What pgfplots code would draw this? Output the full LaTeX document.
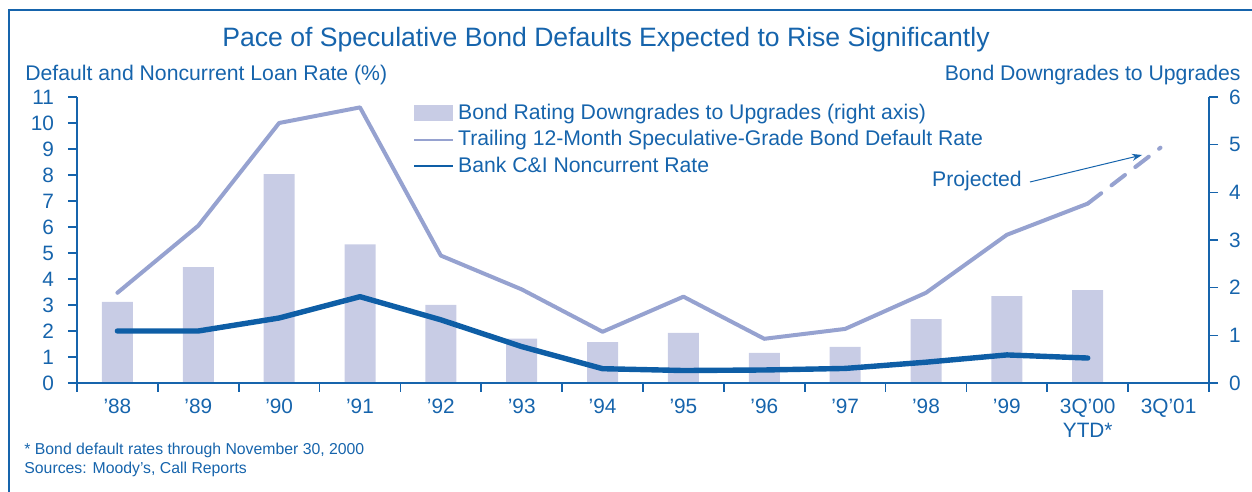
\documentclass[border=0pt]{standalone}
\usepackage{fontspec}
\setmainfont{Liberation Sans}
\usepackage{pgfplots}
\pgfplotsset{compat=1.18}
\usetikzlibrary{arrows.meta}

\definecolor{fdicblue}{RGB}{22,100,172}
\definecolor{bankblue}{RGB}{14,94,166}
\definecolor{ratelav}{RGB}{150,162,208}
\definecolor{barlav}{RGB}{200,204,229}

\pgfplotsset{
  common/.style={
    scale only axis, width=566pt, height=143pt,
    at={(38.5pt,54.5pt)}, anchor=south west,
    xmin=0, xmax=14,
    axis line style={fdicblue, line width=0.8pt, -},
    tick style={fdicblue, line width=0.8pt},
    tick align=outside, major tick length=4.5pt,
    ticklabel style={font=\fontsize{10.4}{12}\selectfont, text=fdicblue},
    /pgf/number format/assume math mode=true,
  }
}

\begin{document}
\begin{tikzpicture}[x=0.5pt,y=0.5pt]
\useasboundingbox (0,0) rectangle (1252,492);
\draw[fdicblue, line width=1pt] (9,0) -- (9,482) -- (1252,482);

% bars, right axis
\begin{axis}[common,
  ymin=0, ymax=6, ytick={0,...,6},
  axis y line*=right, axis x line=none,
  yticklabel style={xshift=2pt},
  legend style={at={(0.297,0.99)}, anchor=north west, draw=none, fill=none,
    font=\fontsize{10.6}{12}\selectfont, text=fdicblue, row sep=0pt,
    inner sep=0pt, nodes={inner sep=2pt}},
  legend cell align=left,
]
\addplot[ybar, fill=barlav, draw=none, bar width=15.5pt,
  legend image code/.code={\fill[barlav] (0pt,-4pt) rectangle (19.5pt,4pt);}]
  coordinates {(0.5,1.70) (1.5,2.43) (2.5,4.38) (3.5,2.91) (4.5,1.64) (5.5,0.93)
    (6.5,0.86) (7.5,1.05) (8.5,0.63) (9.5,0.76) (10.5,1.34) (11.5,1.82) (12.5,1.95)};
\addlegendentry{Bond Rating Downgrades to Upgrades (right axis)}
\addlegendimage{ratelav, line width=0.8pt, legend image code/.code={\draw (0pt,0pt) -- (19.5pt,0pt);}}
\addlegendentry{Trailing 12-Month Speculative-Grade Bond Default Rate}
\addlegendimage{bankblue, line width=0.8pt, legend image code/.code={\draw (0pt,0pt) -- (19.5pt,0pt);}}
\addlegendentry{Bank C\&I Noncurrent Rate}
\end{axis}

% lines, left axis
\begin{axis}[common,
  ymin=0, ymax=11, ytick={0,...,11},
  axis y line*=left, axis x line*=bottom,
  yticklabel style={xshift=-3.5pt},
  xtick={0,...,14}, x tick label as interval,
  xticklabels={’88,’89,’90,’91,’92,’93,’94,’95,’96,’97,’98,’99,{3Q’00\\YTD*},3Q’01},
  xticklabel style={align=center},
  clip=false,
]
\addplot[ratelav, line width=2pt, line join=round, line cap=round]
  coordinates {(0.5,3.47) (1.5,6.05) (2.5,10.0) (3.5,10.6) (4.5,4.9) (5.5,3.6)
    (6.5,1.97) (7.5,3.32) (8.5,1.7) (9.5,2.08) (10.5,3.47) (11.5,5.7) (12.5,6.9)};
\addplot[ratelav, line width=2pt, line cap=round, dash pattern=on 8.5pt off 6.5pt]
  coordinates {(12.5,6.9) (13.4,9.05)};
\addplot[bankblue, line width=2.7pt, line join=round, line cap=round]
  coordinates {(0.5,2.0) (1.5,2.0) (2.5,2.5) (3.5,3.32) (4.5,2.43) (5.5,1.4)
    (6.5,0.55) (7.5,0.48) (8.5,0.5) (9.5,0.56) (10.5,0.8) (11.5,1.08) (12.5,0.96)};
\end{axis}

\node[font=\fontsize{13.3}{16}\selectfont, text=fdicblue] at (606,452)
  {Pace of Speculative Bond Defaults Expected to Rise Significantly};
\node[font=\fontsize{10.6}{12}\selectfont, text=fdicblue, anchor=west, inner sep=0pt] at (25,417)
  {Default and Noncurrent Loan Rate (\%)};
\node[font=\fontsize{10.6}{12}\selectfont, text=fdicblue, anchor=east, inner sep=0pt] at (1241,417)
  {Bond Downgrades to Upgrades};
\node[font=\fontsize{10.6}{12}\selectfont, text=fdicblue] at (977,311) {Projected};
\draw[fdicblue, line width=0.5pt, -{Stealth[length=5pt,width=3.5pt]}] (1030,310) -- (1142,337);
\node[font=\fontsize{7.9}{9}\selectfont, text=fdicblue, anchor=west, inner sep=0pt] at (24,42)
  {* Bond default rates through November 30, 2000};
\node[font=\fontsize{7.9}{9}\selectfont, text=fdicblue, anchor=west, inner sep=0pt] at (24,23)
  {Sources: Moody’s, Call Reports};
\end{tikzpicture}
\end{document}
